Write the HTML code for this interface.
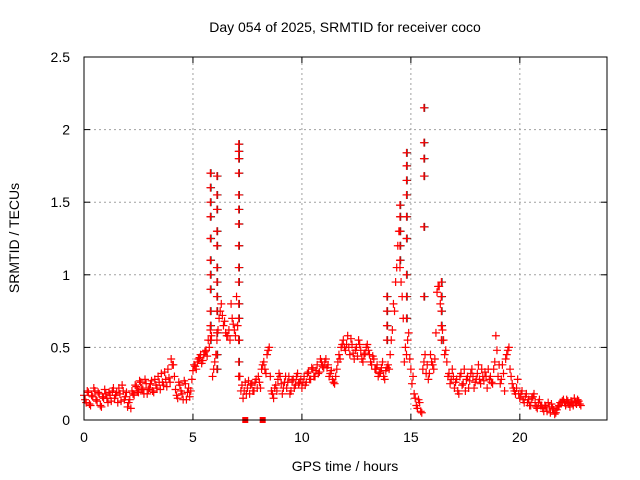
<!DOCTYPE html>
<html><head><meta charset="utf-8"><style>
body{margin:0;background:#fff}
svg{display:block;font-family:"Liberation Sans",sans-serif}
</style></head><body>
<svg id="chart" width="640" height="480" viewBox="0 0 640 480">
<rect width="640" height="480" fill="#fff"/>
<g id="grid"></g>
<g id="marks"></g>
<rect x="84" y="57" width="523" height="363" fill="none" stroke="#000" stroke-width="1"/>
<g id="ticks"></g>
<text x="345" y="32" text-anchor="middle" font-size="14">Day 054 of 2025, SRMTID for receiver coco</text>
<text x="345" y="471" text-anchor="middle" font-size="14">GPS time / hours</text>
<text transform="translate(19,238) rotate(-90)" text-anchor="middle" font-size="14">SRMTID / TECUs</text>
</svg>
<script>
const xTicks=[0,5,10,15,20];
const yTicks=[0,0.5,1,1.5,2,2.5];
const yTickLabels=["0","0.5","1","1.5","2","2.5"];
const baseStart=0, baseStep=0.1;
const baseValues=[
.17,.12,.19,.10,.16,.20,.13,.18,.09,.15,
.18,.12,.17,.20,.15,.19,.22,.13,.20,.16,
.09,.14,.20,.17,.23,.19,.26,.21,.28,.18,
.22,.27,.19,.24,.30,.21,.26,.33,.23,.29,
.42,.38,.21,.15,.24,.18,.27,.14,.22,.20,
.34,.37,.40,.43,.39,.45,.48,.55,.62,.30,
.40,.55,.70,.80,.65,.60,.58,.55,.70,.62,
.85,.55,.20,.15,.26,.22,.18,.25,.20,.28,
.30,.22,.38,.35,.45,.50,.20,.15,.24,.28,
.30,.18,.26,.22,.30,.20,.28,.24,.32,.26,
.22,.30,.26,.33,.28,.35,.30,.38,.33,.40,
.36,.42,.38,.32,.28,.25,.35,.45,.50,.55,
.48,.58,.45,.52,.42,.50,.55,.48,.40,.46,
.52,.45,.38,.42,.35,.30,.33,.40,.28,.36,
.35,.55,.80,.95,1.20,1.05,.85,.40,.45,.60,
.35,.30,.15,.08,.12,.05,.40,.32,.28,.45,
.38,.42,.88,.92,.85,.55,.48,.30,.25,.35,
.22,.28,.18,.32,.25,.20,.30,.27,.35,.22,
.28,.38,.25,.30,.33,.22,.28,.26,.35,.58,
.30,.25,.38,.20,.45,.50,.30,.22,.18,.28,
.15,.20,.12,.18,.14,.10,.16,.12,.08,.14,
.10,.06,.09,.12,.05,.08,.04,.07,.10,.12,
.14,.10,.13,.09,.12,.15,.11,.13,.10];
const base2Start=0.05;
const baseValues2=[
.14,.20,.11,.17,.22,.14,.19,.10,.16,.21,
.15,.19,.13,.22,.17,.12,.18,.24,.14,.19,
.12,.08,.18,.24,.20,.27,.22,.18,.25,.21,
.25,.20,.28,.22,.26,.32,.24,.28,.35,.26,
.38,.30,.17,.26,.20,.14,.25,.19,.16,.28,
.38,.35,.42,.45,.41,.47,.44,.50,.58,.35,
.45,.62,.75,.72,.68,.58,.62,.80,.66,.58,
.65,.30,.24,.20,.18,.27,.24,.20,.26,.22,
.26,.35,.40,.32,.48,.30,.18,.22,.20,.32,
.25,.22,.30,.26,.18,.27,.22,.30,.25,.28,
.26,.24,.32,.28,.36,.30,.34,.32,.42,.37,
.40,.36,.30,.34,.26,.30,.40,.42,.52,.50,
.52,.50,.56,.46,.48,.44,.52,.42,.45,.50,
.48,.40,.44,.35,.38,.32,.36,.30,.34,.38,
.45,.62,.75,1.05,1.30,.95,.70,.50,.55,.42,
.25,.18,.10,.14,.06,.35,.45,.38,.32,.40,
.35,.60,.92,.80,.62,.45,.40,.32,.28,.30,
.26,.20,.30,.24,.35,.28,.22,.32,.30,.26,
.32,.28,.35,.27,.30,.35,.30,.25,.40,.48,
.38,.28,.32,.42,.48,.35,.25,.20,.22,.18,
.18,.14,.16,.12,.10,.15,.18,.09,.12,.10,
.08,.10,.06,.09,.11,.07,.05,.09,.12,.13,
.12,.14,.11,.13,.10,.12,.14,.11];
const spikeTimes=[5.8,6.1,7.1,14.5,14.8,15.6,16.4,13.9];
const spikeValues=[
[1.70,1.60,1.50,1.40,1.25,1.10,1.00,0.90,0.75,0.65,0.55],
[1.68,1.55,1.45,1.30,1.20,1.05,0.95,0.85,0.75,0.60,0.45,0.35],
[1.90,1.85,1.80,1.70,1.55,1.45,1.35,1.20,1.05,0.95,0.80,0.70,0.55,0.40,0.30],
[1.48,1.40,1.30,1.20,1.10],
[1.84,1.75,1.65,1.55,1.40,1.25,1.00,0.85,0.70],
[2.15,1.91,1.80,1.68,1.33,0.85],
[0.95,0.85,0.75,0.65,0.55],
[0.85,0.75,0.65,0.55]];
const zeroTimes=[7.4,8.2];

const NS="http://www.w3.org/2000/svg";
const X0=84,X1=607,Y0=420,Y1=57;
function sx(h){return X0+h/24*(X1-X0);}
function sy(v){return Y0-v/2.5*(Y0-Y1);}
const grid=document.getElementById('grid'),ticks=document.getElementById('ticks'),marks=document.getElementById('marks');
function mk(tag,attrs,parent){const e=document.createElementNS(NS,tag);for(const k in attrs)e.setAttribute(k,attrs[k]);parent.appendChild(e);return e;}
xTicks.forEach(t=>{
  const x=sx(t);
  if(t>0){const g=mk('line',{x1:x,x2:x,y1:Y0,y2:Y1,stroke:'#a0a0a0','stroke-dasharray':'2,3'},grid);
  
  }
  mk('line',{x1:x,x2:x,y1:Y0,y2:Y0-6,stroke:'#000'},ticks);
  mk('line',{x1:x,x2:x,y1:Y1,y2:Y1+6,stroke:'#000'},ticks);
  const l=mk('text',{x:x,y:Y0+22,'text-anchor':'middle','font-size':'14'},ticks);
  l.textContent=t;
  
  
});
yTicks.forEach((t,i)=>{
  const y=sy(t);
  if(t>0&&t<2.5){const g=mk('line',{x1:X0,x2:X1,y1:y,y2:y,stroke:'#a0a0a0','stroke-dasharray':'2,3'},grid);
  
  }
  mk('line',{x1:X0,x2:X0+6,y1:y,y2:y,stroke:'#000'},ticks);
  mk('line',{x1:X1,x2:X1-6,y1:y,y2:y,stroke:'#000'},ticks);
  const l=mk('text',{x:X0-14,y:y+5,'text-anchor':'end','font-size':'14'},ticks);
  l.textContent=yTickLabels[i];
  
  
});
function plus(h,v,color,name){
  const x=sx(h),y=sy(v);
  const p=mk('path',{d:`M${x-4},${y}H${x+4}M${x},${y-4}V${y+4}`,stroke:color,'stroke-width':'1.2',fill:'none'},marks);
  
  
}
spikeTimes.forEach((t,i)=>spikeValues[i].forEach(v=>plus(t+0.03,v,'#333','black-point')));
baseValues.forEach((v,i)=>plus(baseStart+i*baseStep,v,'#f00','red-point'));
baseValues2.forEach((v,i)=>plus(base2Start+i*baseStep,v,'#f00','red-point'));
spikeTimes.forEach((t,i)=>spikeValues[i].forEach(v=>plus(t,v,'#f00','red-point')));
zeroTimes.forEach(t=>{
  const r=mk('rect',{x:sx(t)-3,y:Y0-3,width:6,height:6,fill:'#f00'},marks);
  
  
});
</script>
</body></html>
